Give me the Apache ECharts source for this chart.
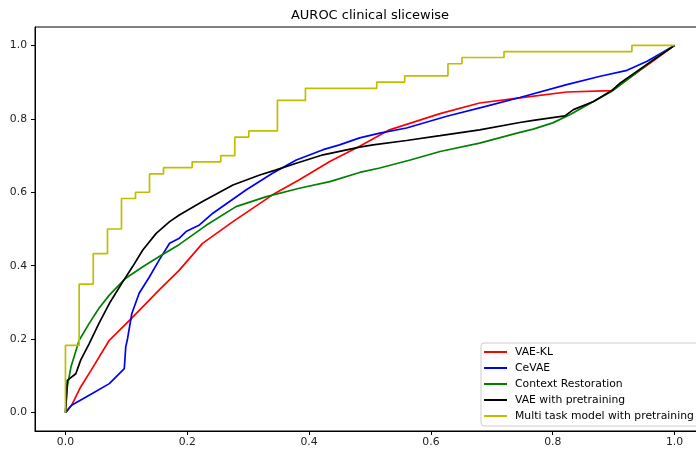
<!DOCTYPE html>
<html>
<head>
<meta charset="utf-8">
<script src="https://cdn.jsdelivr.net/npm/echarts@6/dist/echarts.min.js"></script>
<style>
  html, body { margin: 0; padding: 0; background: #fff; overflow: hidden; }
  /* the original figure is cropped on the right, so the chart is a bit wider than the window */
  #main { width: 706px; height: 450px; }
</style>
</head>
<body>
<div id="main"></div>
<script>
// ROC curves (false positive rate, true positive rate)
var vaeKlFpr = [0, 0.01, 0.025, 0.042, 0.072, 0.108, 0.154, 0.187, 0.225, 0.275, 0.34, 0.384, 0.434, 0.483, 0.532, 0.615, 0.68, 0.746, 0.823, 0.897, 0.922, 0.96, 1.0];
var vaeKlTpr = [0, 0.02, 0.07, 0.115, 0.197, 0.256, 0.334, 0.388, 0.461, 0.52, 0.593, 0.634, 0.684, 0.725, 0.77, 0.814, 0.843, 0.857, 0.873, 0.877, 0.907, 0.952, 1.0];

var cevaeFpr = [0, 0.01, 0.044, 0.072, 0.0966, 0.099, 0.102, 0.109, 0.121, 0.138, 0.154, 0.171, 0.187, 0.198, 0.22, 0.242, 0.297, 0.34, 0.379, 0.423, 0.45, 0.483, 0.516, 0.56, 0.626, 0.69, 0.746, 0.823, 0.878, 0.922, 0.955, 1.0];
var cevaeTpr = [0, 0.02, 0.052, 0.079, 0.12, 0.179, 0.202, 0.27, 0.325, 0.37, 0.416, 0.461, 0.475, 0.493, 0.511, 0.543, 0.607, 0.652, 0.688, 0.716, 0.729, 0.748, 0.761, 0.775, 0.807, 0.834, 0.858, 0.893, 0.916, 0.932, 0.957, 1.0];

var ctxFpr = [0, 0.003, 0.009, 0.0225, 0.039, 0.055, 0.072, 0.099, 0.127, 0.154, 0.187, 0.22, 0.231, 0.28, 0.33, 0.384, 0.434, 0.483, 0.516, 0.566, 0.615, 0.68, 0.746, 0.768, 0.80, 0.828, 0.867, 0.897, 0.933, 0.965, 1.0];
var ctxTpr = [0, 0.07, 0.124, 0.197, 0.243, 0.284, 0.32, 0.366, 0.397, 0.425, 0.458, 0.497, 0.51, 0.561, 0.588, 0.611, 0.629, 0.654, 0.666, 0.688, 0.711, 0.734, 0.763, 0.772, 0.789, 0.811, 0.847, 0.875, 0.92, 0.961, 1.0];

var vaePreFpr = [0, 0.003, 0.017, 0.025, 0.039, 0.055, 0.072, 0.094, 0.11, 0.127, 0.149, 0.171, 0.187, 0.225, 0.275, 0.319, 0.346, 0.379, 0.423, 0.483, 0.505, 0.56, 0.615, 0.68, 0.746, 0.768, 0.82, 0.834, 0.867, 0.897, 0.911, 0.944, 1.0];
var vaePreTpr = [0, 0.088, 0.106, 0.143, 0.188, 0.243, 0.297, 0.356, 0.397, 0.443, 0.488, 0.52, 0.538, 0.575, 0.62, 0.647, 0.661, 0.679, 0.702, 0.723, 0.729, 0.741, 0.754, 0.77, 0.79, 0.796, 0.808, 0.825, 0.847, 0.877, 0.898, 0.936, 1.0];

// multi task model: step curve corners
var multiFpr = [0, 0, 0.0225, 0.0456, 0.069, 0.092, 0.115, 0.138, 0.161, 0.208, 0.255, 0.278, 0.301, 0.348, 0.394, 0.511, 0.557, 0.628, 0.651, 0.72, 0.93, 1.0];
var multiTpr = [0, 0.183, 0.35, 0.433, 0.5, 0.583, 0.6, 0.65, 0.667, 0.683, 0.7, 0.75, 0.767, 0.85, 0.883, 0.9, 0.917, 0.95, 0.967, 0.983, 1.0, 1.0];

var seriesNames = ['VAE-KL', 'CeVAE', 'Context Restoration', 'VAE with pretraining', 'Multi task model with pretraining'];
var seriesColors = ['#ff0000', '#0000ff', '#008000', '#000000', '#bfbf00'];
var seriesStep = [false, false, false, false, 'end'];
var tickValues = [0, 0.2, 0.4, 0.6, 0.8, 1.0];

function pairs(xs, ys) {
    return xs.map(function (x, i) { return [x, ys[i]]; });
}

var curves = [
    pairs(vaeKlFpr, vaeKlTpr),
    pairs(cevaeFpr, cevaeTpr),
    pairs(ctxFpr, ctxTpr),
    pairs(vaePreFpr, vaePreTpr),
    pairs(multiFpr, multiTpr)
];

var font = 'DejaVu Sans';

function axisFor(dim) {
    return {
        type: 'value',
        min: -0.05,
        max: 1.05,
        splitLine: { show: false },
        axisLine: { show: true, onZero: false, lineStyle: { color: '#000', width: 1 } },
        axisTick: { show: true, length: 4, customValues: tickValues, lineStyle: { color: '#000' } },
        axisLabel: {
            customValues: tickValues,
            margin: dim === 'x' ? 6 : 8,
            color: '#222',
            fontFamily: font,
            fontSize: 10.8,
            formatter: function (v) { return v.toFixed(1); }
        }
    };
}

var myChart = echarts.init(document.getElementById('main'), null, { renderer: 'canvas' });
var option = {
    animation: false,
    backgroundColor: '#fff',
    title: {
        text: 'AUROC clinical slicewise',
        left: 370,
        top: 9,
        padding: 0,
        textAlign: 'center',
        textStyle: { fontFamily: font, fontSize: 13, fontWeight: 'normal', color: '#000' }
    },
    grid: {
        left: 35,
        top: 27,
        right: 1,
        bottom: 19,
        show: true,
        borderColor: '#000',
        borderWidth: 1,
        containLabel: false
    },
    legend: {
        data: seriesNames,
        orient: 'vertical',
        left: 481,
        top: 343,
        icon: 'rect',
        itemWidth: 23,
        itemHeight: 2,
        itemGap: 4,
        padding: [3, 6, 4, 3],
        backgroundColor: 'rgba(255,255,255,0.8)',
        borderColor: '#cccccc',
        borderWidth: 1,
        borderRadius: 3,
        textStyle: { fontFamily: font, fontSize: 10.8, color: '#000', lineHeight: 12, padding: [0, 0, 0, 3] }
    },
    xAxis: axisFor('x'),
    yAxis: axisFor('y'),
    series: curves.map(function (d, i) {
        return {
            name: seriesNames[i],
            type: 'line',
            data: d,
            step: seriesStep[i],
            showSymbol: false,
            symbol: 'none',
            color: seriesColors[i],
            lineStyle: { color: seriesColors[i], width: 1.7 },
            z: 2 + i
        };
    })
};
myChart.setOption(option);
</script>
</body>
</html>
